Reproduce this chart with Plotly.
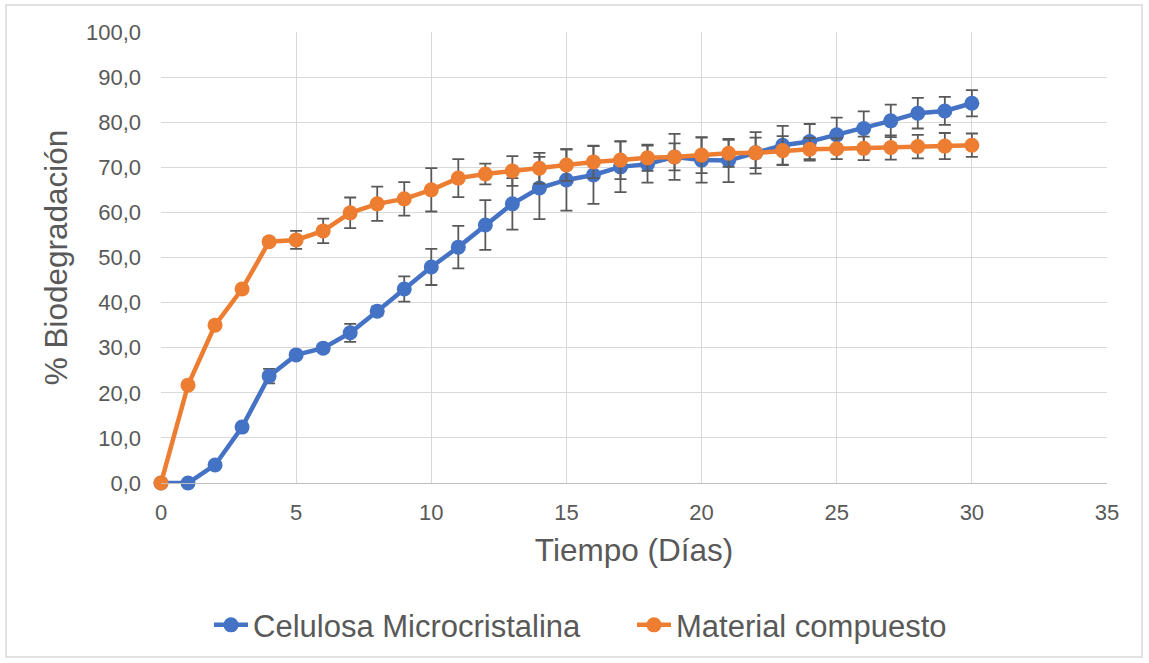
import plotly.graph_objects as go

dias = list(range(0, 31))

celulosa = [0.0, 0.0, 4.0, 12.4, 23.7, 28.4, 29.9, 33.3, 38.1, 43.0, 47.9,
            52.3, 57.2, 61.9, 65.4, 67.2, 68.3, 70.1, 70.7, 72.3, 71.6,
            71.5, 73.2, 74.9, 75.7, 77.2, 78.6, 80.3, 82.0, 82.5, 84.2]
celulosa_err = [0.0, 0.0, 0.3, 0.5, 1.6, 0.5, 0.8, 2.0, 1.0, 2.8, 4.0,
                4.7, 5.5, 5.7, 6.9, 6.8, 6.4, 5.6, 4.1, 5.1, 5.0,
                4.8, 4.6, 4.3, 3.9, 3.8, 3.8, 3.6, 3.4, 3.1, 2.9]

compuesto = [0.0, 21.7, 35.0, 43.0, 53.5, 53.9, 55.9, 59.9, 61.9, 63.0, 65.0,
             67.6, 68.5, 69.2, 69.8, 70.5, 71.2, 71.6, 72.1, 72.3, 72.7,
             73.1, 73.2, 73.7, 74.0, 74.1, 74.2, 74.4, 74.6, 74.7, 74.9]
compuesto_err = [0.0, 0.0, 0.0, 0.0, 0.8, 2.0, 2.7, 3.4, 3.8, 3.7, 4.8,
                 4.2, 2.3, 3.3, 3.4, 3.5, 3.6, 4.2, 2.9, 3.0, 4.0,
                 3.0, 3.4, 3.2, 2.5, 2.3, 2.6, 2.7, 2.6, 2.9, 2.6]

azul = "#4472C4"
naranja = "#ED7D31"
gris = "#595959"
font_family = "Liberation Sans, Arial, sans-serif"

fig = go.Figure()
fig.add_trace(go.Scatter(
    x=dias, y=celulosa, name="Celulosa Microcristalina",
    mode="lines+markers",
    line=dict(color=azul, width=4.5),
    marker=dict(color=azul, size=15),
    error_y=dict(type="data", array=celulosa_err, color=gris, thickness=1.8, width=6),
    cliponaxis=False,
))
fig.add_trace(go.Scatter(
    x=dias, y=compuesto, name="Material compuesto",
    mode="lines+markers",
    line=dict(color=naranja, width=4.5),
    marker=dict(color=naranja, size=15),
    error_y=dict(type="data", array=compuesto_err, color=gris, thickness=1.8, width=6),
    cliponaxis=False,
))

plot_l, plot_r, plot_t, plot_b = 161, 1107, 32, 483
pw, ph = plot_r - plot_l, plot_b - plot_t

def px_x(p):
    return (p - plot_l) / pw

def px_y(p):
    return (plot_b - p) / ph

fig.update_layout(
    width=1149, height=663,
    margin=dict(l=plot_l, r=1149 - plot_r, t=plot_t, b=663 - plot_b),
    paper_bgcolor="white", plot_bgcolor="white",
    separators=",.",
    font=dict(family=font_family, color=gris),
    showlegend=True,
    legend=dict(orientation="h", xref="container", yref="container",
                x=209 / 1149, y=0.057, xanchor="left", yanchor="middle",
                font=dict(size=31, color=gris), itemwidth=34,
                entrywidth=374, entrywidthmode="pixels",
                bgcolor="rgba(0,0,0,0)"),
    xaxis=dict(range=[0, 35], dtick=5, tick0=0, showgrid=True, gridcolor="#d9d9d9",
               gridwidth=1, zeroline=False, showline=True, linecolor="#bfbfbf",
               ticks="", tickfont=dict(size=22, color=gris), ticklabelstandoff=10,
               title=dict(text="Tiempo (Días)", font=dict(size=31.5, color=gris), standoff=14)),
    yaxis=dict(range=[0, 100], dtick=10, tick0=0, showgrid=True, gridcolor="#d9d9d9",
               gridwidth=1, zeroline=False, showline=False, tickformat=".1f",
               ticks="", tickfont=dict(size=22, color=gris), ticklabelstandoff=19,
               title=dict(text="% Biodegradación", font=dict(size=31.5, color=gris), standoff=8)),
    shapes=[dict(type="rect", xref="paper", yref="paper",
                 x0=px_x(6), x1=px_x(1142), y0=px_y(657), y1=px_y(5),
                 line=dict(color="#d9d9d9", width=1.5), fillcolor="rgba(0,0,0,0)", layer="below")],
)

fig.write_html("out.html")
